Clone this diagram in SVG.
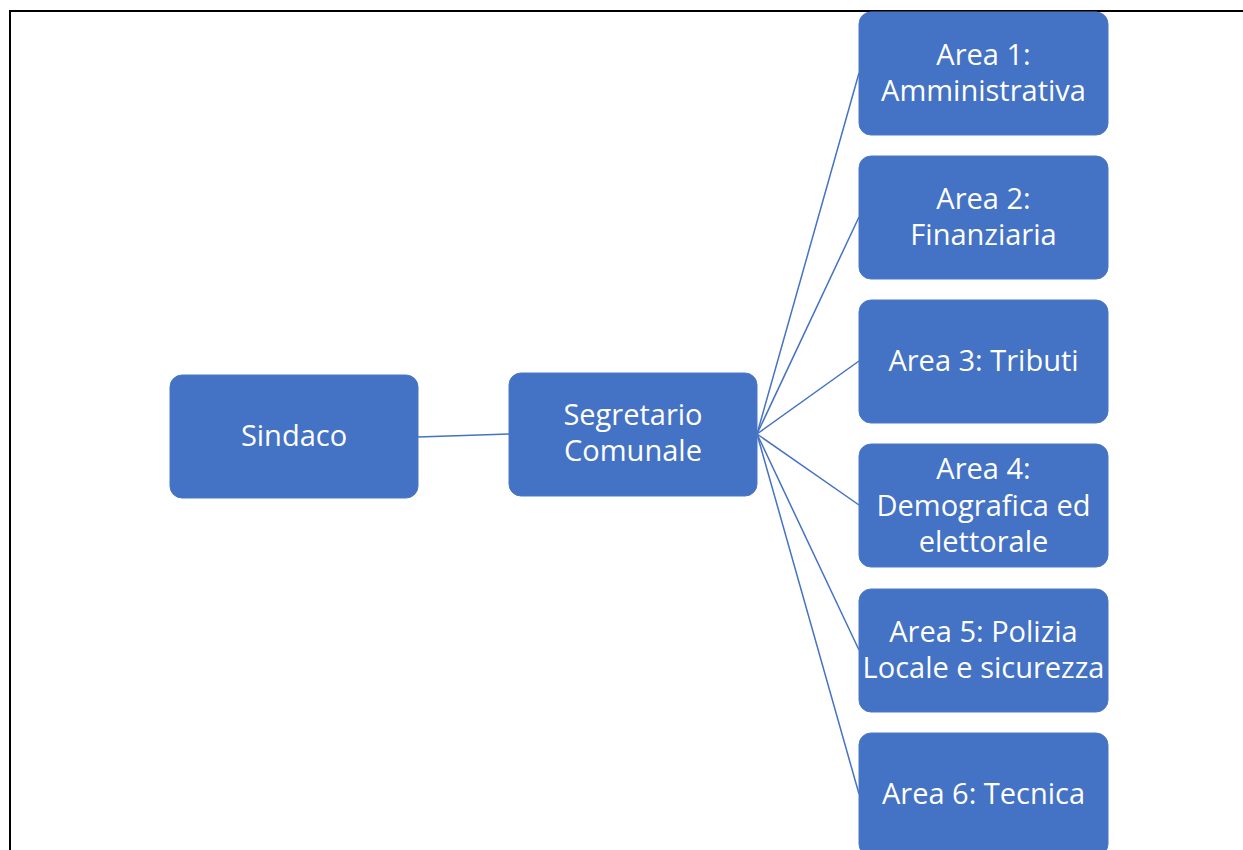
<svg xmlns="http://www.w3.org/2000/svg" width="1243" height="850" viewBox="0 0 1243 850">
<style>
.box{fill:#4472C4;stroke:#4A78C8;stroke-width:1}
.t{fill:#ffffff;font-family:"Open Sans","Liberation Sans",sans-serif;font-size:29px;text-anchor:middle}
.c{stroke:#4472C4;stroke-width:1.5;fill:none}
</style>
<rect x="0" y="0" width="1243" height="850" fill="#ffffff"/>
<rect id="frame" x="10" y="11" width="1250" height="860" fill="none" stroke="#000" stroke-width="2"/>
<g id="connectors">
<line class="c" x1="418" y1="437" x2="509" y2="434"/>
<line class="c" x1="757" y1="434" x2="859" y2="73"/>
<line class="c" x1="757" y1="434" x2="859" y2="217"/>
<line class="c" x1="757" y1="434" x2="859" y2="361"/>
<line class="c" x1="757" y1="434" x2="859" y2="505"/>
<line class="c" x1="757" y1="434" x2="859" y2="650"/>
<line class="c" x1="757" y1="434" x2="859" y2="794"/>
</g>
<g id="sindaco"><rect class="box" x="170" y="375" width="248" height="123" rx="12"/><text class="t" x="294" y="446">Sindaco</text></g>
<g id="segretario"><rect class="box" x="509" y="373" width="248" height="123" rx="12"/><text class="t" x="633" y="425">Segretario</text><text class="t" x="633" y="461">Comunale</text></g>
<g id="area1"><rect class="box" x="859" y="12" width="249" height="123" rx="12"/><text class="t" x="983.5" y="65">Area 1:</text><text class="t" x="983.5" y="101">Amministrativa</text></g>
<g id="area2"><rect class="box" x="859" y="156" width="249" height="123" rx="12"/><text class="t" x="983.5" y="209">Area 2:</text><text class="t" x="983.5" y="245">Finanziaria</text></g>
<g id="area3"><rect class="box" x="859" y="300" width="249" height="123" rx="12"/><text class="t" x="983.5" y="371">Area 3: Tributi</text></g>
<g id="area4"><rect class="box" x="859" y="444" width="249" height="123" rx="12"/><text class="t" x="983.5" y="479">Area 4:</text><text class="t" x="983.5" y="516">Demografica ed</text><text class="t" x="983.5" y="552">elettorale</text></g>
<g id="area5"><rect class="box" x="859" y="589" width="249" height="123" rx="12"/><text class="t" x="983.5" y="642">Area 5: Polizia</text><text class="t" x="983.5" y="678">Locale e sicurezza</text></g>
<g id="area6"><rect class="box" x="859" y="733" width="249" height="123" rx="12"/><text class="t" x="983.5" y="804">Area 6: Tecnica</text></g>
</svg>
